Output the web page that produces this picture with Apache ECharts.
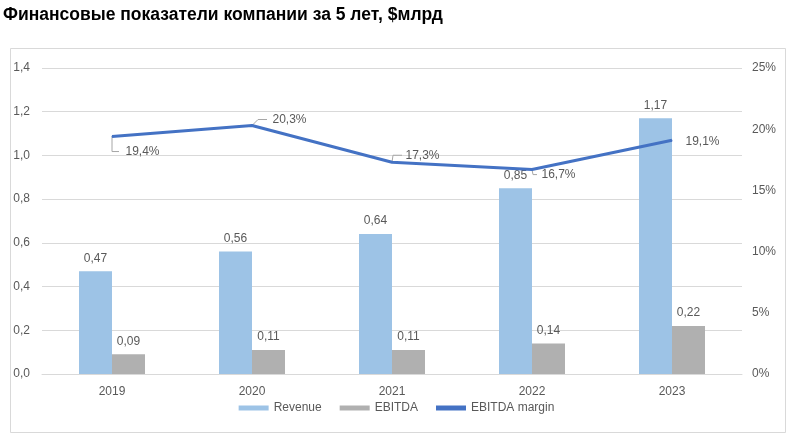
<!DOCTYPE html>
<html>
<head>
<meta charset="utf-8">
<script src="https://cdn.jsdelivr.net/npm/echarts@6/dist/echarts.min.js"></script>
<style>html,body{margin:0;padding:0;background:#fff;}#c{width:793px;height:441px;}</style>
</head>
<body>
<div id="c"></div>
<script>
var years = ['2019', '2020', '2021', '2022', '2023'];
var revenue = [0.47, 0.56, 0.64, 0.85, 1.17];
var ebitda = [0.09, 0.11, 0.11, 0.14, 0.22];
var margin = [19.4, 20.3, 17.3, 16.7, 19.1];
var leftTicks = {min: 0, max: 1.4, interval: 0.2};
var rightTicks = {min: 0, max: 25, interval: 5};

// label offsets (style) for margin labels
var labelOffsets = [[13, 15], [20, -6], [13, -7], [9, 5], [13, 1]];
var leaderKink = [0, 6, 1, 1, null];
var leaderGap = [6, 5, 3, 4, 0];

var font = 'Liberation Sans, Arial, sans-serif';
var txt = '#595959';
function comma(v, d) { return v.toFixed(d).replace('.', ','); }

var chart = echarts.init(document.getElementById('c'));
var borderGraphic = {
  id: 'border', type: 'rect', left: 8, top: 46,
  shape: {width: 775, height: 384},
  style: {fill: 'none', stroke: '#d9d9d9', lineWidth: 1},
  silent: true, z: -1
};
chart.setOption({
  animation: false,
  backgroundColor: '#fff',
  title: {
    text: 'Финансовые показатели компании за 5 лет, $млрд',
    left: 3, top: 6, padding: 0,
    textStyle: {fontFamily: font, fontWeight: 'bold', fontSize: 17.5, color: '#000'}
  },
  graphic: [borderGraphic],
  grid: {left: 42, right: 51, top: 68, bottom: 67},
  legend: {
    bottom: 22, left: 'center',
    itemWidth: 30, itemHeight: 5, itemGap: 18,
    textStyle: {fontFamily: font, fontSize: 12, color: txt},
    data: [
      {name: 'Revenue', icon: 'rect'},
      {name: 'EBITDA', icon: 'rect'},
      {name: 'EBITDA margin', icon: 'rect'}
    ]
  },
  xAxis: {
    type: 'category', data: years,
    axisTick: {show: false},
    axisLine: {lineStyle: {color: '#d9d9d9'}},
    axisLabel: {fontFamily: font, fontSize: 12, color: txt, margin: 12}
  },
  yAxis: [{
    type: 'value', min: leftTicks.min, max: leftTicks.max, interval: leftTicks.interval,
    axisLabel: {fontFamily: font, fontSize: 12, color: txt, margin: 12, formatter: function (v) { return comma(v, 1); }},
    splitLine: {lineStyle: {color: '#d9d9d9'}},
    axisLine: {show: false}, axisTick: {show: false}
  }, {
    type: 'value', min: rightTicks.min, max: rightTicks.max, interval: rightTicks.interval,
    position: 'right',
    axisLabel: {fontFamily: font, fontSize: 12, color: txt, margin: 10, formatter: '{value}%'},
    splitLine: {show: false},
    axisLine: {show: false}, axisTick: {show: false}
  }],
  series: [{
    name: 'Revenue', type: 'bar', data: revenue,
    barWidth: 33, barGap: '0%',
    itemStyle: {color: '#9dc3e6'},
    label: {show: true, position: 'top', distance: 7, fontFamily: font, fontSize: 12, color: txt,
      formatter: function (p) { return comma(p.value, 2); }}
  }, {
    name: 'EBITDA', type: 'bar', data: ebitda,
    barWidth: 33,
    itemStyle: {color: '#b0b0b0'},
    label: {show: true, position: 'top', distance: 7, fontFamily: font, fontSize: 12, color: txt,
      formatter: function (p) { return comma(p.value, 2); }}
  }, {
    name: 'EBITDA margin', type: 'line', yAxisIndex: 1, data: margin,
    symbol: 'circle', symbolSize: 1, showSymbol: true,
    lineStyle: {color: '#4472c4', width: 3},
    itemStyle: {color: '#4472c4'},
    z: 5,
    label: {show: true, position: 'right', distance: 0, fontFamily: font, fontSize: 12, color: txt,
      formatter: function (p) { return comma(p.value, 1) + '%'; }},
    labelLayout: function (params) {
      var off = labelOffsets[params.dataIndex];
      return {dx: off[0], dy: off[1]};
    }
  }]
});

// leader lines computed from the data through the chart's scales
var leaders = [borderGraphic];
margin.forEach(function (v, i) {
  if (leaderKink[i] === null) return;
  var p = chart.convertToPixel({seriesIndex: 2}, [i, v]);
  var off = labelOffsets[i];
  var ly = p[1] + off[1];
  var ex = p[0] + off[0] - leaderGap[i];
  leaders.push({
    type: 'polyline', silent: true, z: 4,
    shape: {points: [[p[0], p[1]], [p[0] + leaderKink[i], ly], [ex, ly]]},
    style: {stroke: '#a6a6a6', lineWidth: 1, fill: 'none'}
  });
});
chart.setOption({graphic: leaders}, {replaceMerge: ['graphic']});
</script>
</body>
</html>
